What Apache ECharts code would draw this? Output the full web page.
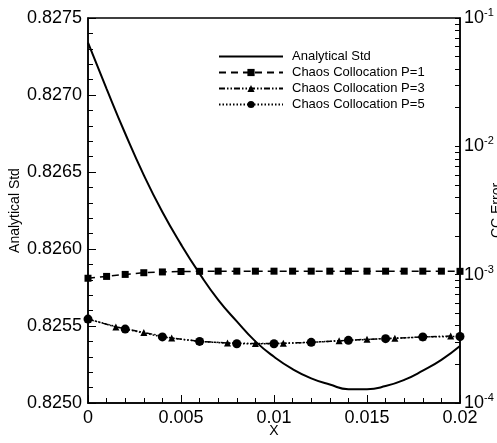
<!DOCTYPE html>
<html>
<head>
<meta charset="utf-8">
<script src="https://cdn.jsdelivr.net/npm/echarts@6/dist/echarts.min.js"></script>
<style>
  html, body { margin: 0; padding: 0; background: #fff; }
  #chart { width: 497px; height: 443px; }
</style>
</head>
<body>
<div id="chart"></div>
<script>
// analytical std, sampled every 0.001
const xAnalytical = [0, 0.001, 0.002, 0.003, 0.004, 0.005, 0.006, 0.007, 0.008, 0.009, 0.01,
  0.011, 0.012, 0.013, 0.014, 0.015, 0.016, 0.017, 0.018, 0.019, 0.02];
const analyticalStd = [0.82734, 0.82704, 0.82675, 0.82648, 0.82624, 0.82603, 0.82584, 0.82567, 0.82553, 0.8254, 0.8253,
  0.82522, 0.82516, 0.82512, 0.82509, 0.82509, 0.82511, 0.82515, 0.82521, 0.82528, 0.82537];

// chaos collocation P=1 (squares)
const xP1 = [0, 0.001, 0.002, 0.003, 0.004, 0.005, 0.006, 0.007, 0.008, 0.009, 0.01,
  0.011, 0.012, 0.013, 0.014, 0.015, 0.016, 0.017, 0.018, 0.019, 0.02];
const stdP1 = [0.82581, 0.825822, 0.825835, 0.825846, 0.825851, 0.825854, 0.825855, 0.825856, 0.825856, 0.825856, 0.825856,
  0.825856, 0.825856, 0.825856, 0.825856, 0.825856, 0.825856, 0.825856, 0.825856, 0.825856, 0.825855];

// chaos collocation P=3 (triangles)
const xP3 = [0, 0.0015, 0.003, 0.0045, 0.006, 0.0075, 0.009, 0.0105, 0.012, 0.0135, 0.015, 0.0165, 0.018, 0.0195];
const stdP3 = [0.825545, 0.825494, 0.825458, 0.825422, 0.8254, 0.82539, 0.825386, 0.825388, 0.825394, 0.825404,
  0.825414, 0.82542, 0.825429, 0.825435];

// chaos collocation P=5 (circles)
const xP5 = [0, 0.002, 0.004, 0.006, 0.008, 0.01, 0.012, 0.014, 0.016, 0.018, 0.02];
const stdP5 = [0.825545, 0.82548, 0.825429, 0.8254, 0.825385, 0.825385, 0.825394, 0.825407, 0.825418, 0.825429, 0.825432];

// right log axis
const errorMajor = [1e-4, 1e-3, 1e-2, 1e-1];
const errorMinor = [];
for (const d of [1e-4, 1e-3, 1e-2]) {
  for (let k = 1; k <= 10; k++) errorMinor.push(+(d * k).toPrecision(3));
}

const pairs = (xs, ys) => xs.map((x, i) => [x, ys[i]]);
const FONT = 'Liberation Sans';

const chart = echarts.init(document.getElementById('chart'), null, { renderer: 'canvas' });
chart.setOption({
  animation: false,
  textStyle: { fontFamily: FONT, color: '#000' },
  grid: {
    left: 88, right: 37, top: 18, bottom: 40,
    outerBoundsMode: 'none',
    show: true, borderColor: '#000', borderWidth: 1.5,
  },
  legend: {
    orient: 'vertical',
    left: 213,
    top: 45,
    itemWidth: 64,
    itemHeight: 9,
    itemGap: 3,
    textStyle: { fontFamily: FONT, fontSize: 13, lineHeight: 13, color: '#000', padding: [0, 0, 0, 4] },
    data: [
      { name: 'Analytical Std', icon: 'path://M0,0H64V2H0Z' },
      'Chaos Collocation P=1', 'Chaos Collocation P=3', 'Chaos Collocation P=5',
    ],
  },
  xAxis: {
    type: 'value',
    min: 0, max: 0.02, interval: 0.005,
    name: 'X', nameLocation: 'middle', nameGap: 21, nameMoveOverlap: false,
    nameTextStyle: { fontFamily: FONT, fontSize: 14, color: '#000' },
    axisLine: { lineStyle: { color: '#000', width: 1.5 } },
    axisTick: { inside: true, length: 8, lineStyle: { color: '#000' } },
    minorTick: { show: true, splitNumber: 5, length: 5, lineStyle: { color: '#000' } },
    axisLabel: { fontFamily: FONT, fontSize: 18, color: '#000', margin: 6 },
    splitLine: { show: false },
  },
  yAxis: [
    {
      type: 'value',
      min: 0.825, max: 0.8275, interval: 0.0005,
      name: 'Analytical Std', nameLocation: 'middle', nameGap: 66, nameRotate: 90, nameMoveOverlap: false,
      nameTextStyle: { fontFamily: FONT, fontSize: 14, color: '#000' },
      axisLine: { show: true, lineStyle: { color: '#000', width: 1.5 } },
      axisTick: { show: true, inside: true, length: 8, lineStyle: { color: '#000' } },
      minorTick: { show: true, splitNumber: 5, length: 5, lineStyle: { color: '#000' } },
      axisLabel: { fontFamily: FONT, fontSize: 18, color: '#000', margin: 6, formatter: v => v.toFixed(4) },
      splitLine: { show: false },
    },
    {
      type: 'log', logBase: 10,
      min: 1e-4, max: 1e-1,
      position: 'right',
      name: 'CC Error', nameLocation: 'middle', nameGap: 30, nameRotate: 90, nameMoveOverlap: false,
      nameTextStyle: { fontFamily: FONT, fontSize: 14, color: '#000' },
      axisLine: { show: true, lineStyle: { color: '#000', width: 1.5 } },
      axisTick: { show: true, inside: true, length: 5, customValues: errorMinor, lineStyle: { color: '#000' } },
      axisLabel: {
        margin: 4,
        customValues: errorMajor,
        formatter: v => '{b|10}{s|' + Math.round(Math.log10(v)) + '}',
        rich: {
          b: { fontFamily: FONT, fontSize: 18, color: '#000' },
          s: { fontFamily: FONT, fontSize: 11, color: '#000', verticalAlign: 'top', padding: [0, 0, 10, 0] },
        },
      },
      splitLine: { show: false },
    },
  ],
  series: [
    {
      name: 'Analytical Std',
      type: 'line',
      data: pairs(xAnalytical, analyticalStd),
      smooth: 0.5,
      showSymbol: false,
      symbol: 'none',
      lineStyle: { color: '#000', width: 2 },
      itemStyle: { color: '#000' },
    },
    {
      name: 'Chaos Collocation P=1',
      type: 'line',
      data: pairs(xP1, stdP1),
      symbol: 'rect',
      symbolSize: 7,
      lineStyle: { color: '#000', width: 1.5, type: [7, 5] },
      itemStyle: { color: '#000' },
    },
    {
      name: 'Chaos Collocation P=3',
      type: 'line',
      data: pairs(xP3, stdP3),
      symbol: 'triangle',
      symbolSize: 7,
      lineStyle: { color: '#000', width: 1.5, type: [6, 2, 1.5, 2, 1.5, 2] },
      itemStyle: { color: '#000' },
    },
    {
      name: 'Chaos Collocation P=5',
      type: 'line',
      data: pairs(xP5, stdP5),
      symbol: 'circle',
      symbolSize: 9,
      lineStyle: { color: '#000', width: 1.5, type: [1.5, 2] },
      itemStyle: { color: '#000' },
    },
  ],
});
window.addEventListener('resize', chart.resize);
</script>
</body>
</html>
